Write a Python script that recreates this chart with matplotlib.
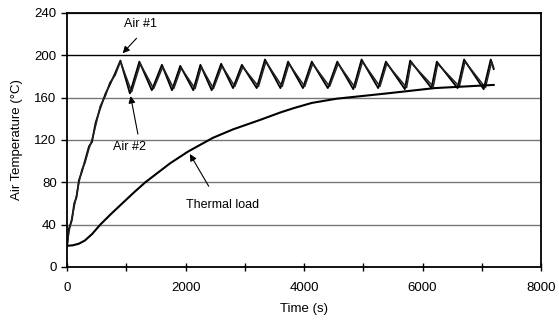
import numpy as np
import matplotlib
matplotlib.use('Agg')
import matplotlib.pyplot as plt

plt.rcParams['font.family'] = ['Liberation Sans', 'DejaVu Sans']

# initial heating ramp (time s, temp C)
rise_t = [0, 30, 80, 120, 160, 200, 250, 300, 370, 420, 480, 560, 650, 720, 810, 900]
rise_T1 = [20, 36, 44, 60, 66, 82, 90, 100, 114, 118, 136, 150, 164, 172, 183, 195]
rise_T2 = [20, 33, 46, 57, 68, 80, 92, 98, 112, 120, 133, 152, 162, 174, 181, 194]

# cycling phase: peaks and troughs
peak_t = [1220, 1600, 1910, 2250, 2600, 2950, 3340, 3730, 4130, 4560, 4970, 5380, 5790, 6240, 6700, 7150]
peak_T = [194, 191, 190, 191, 192, 191, 196, 194, 194, 194, 196, 194, 195, 194, 196, 196]
trough_t = [1060, 1430, 1770, 2130, 2440, 2800, 3200, 3600, 3980, 4400, 4830, 5250, 5700, 6150, 6590, 7030]
trough_T = [164, 167, 167, 167, 167, 169, 169, 169, 169, 169, 168, 169, 168, 169, 169, 168]
end_t, end_T = 7200, 187

# thermal load
load_t = [0, 100, 200, 300, 420, 560, 740, 930, 1120, 1320, 1740, 2040, 2460, 2800, 3260, 3600, 3820, 4130, 4550, 5400, 6200, 7200]
load_T = [20, 20.5, 22, 25, 31, 40, 50, 60, 70, 80, 98, 109, 122, 130, 139, 146, 150, 155, 159, 164, 169, 172]

t1 = list(rise_t)
T1 = list(rise_T1)
t2 = list(rise_t)
T2 = list(rise_T2)
for tr_t, tr_T, pk_t, pk_T in zip(trough_t, trough_T, peak_t, peak_T):
    t1 += [tr_t, pk_t]
    T1 += [tr_T, pk_T]
    t2 += [tr_t + 30, pk_t + 15]
    T2 += [tr_T + 1.5, pk_T - 2]
t1.append(end_t)
T1.append(end_T)
t2.append(end_t)
T2.append(end_T + 1)

fig = plt.figure(figsize=(5.59, 3.24), dpi=100)
ax = fig.add_axes([0.12, 0.176, 0.848, 0.784])

ax.plot(t1, T1, color='black', lw=1.3)
ax.plot(t2, T2, color='#222222', lw=1.1)
ax.plot(load_t, load_T, color='black', lw=1.5)

ax.set_xlim(0, 8000)
ax.set_ylim(0, 240)
ax.set_xticks(np.arange(0, 8001, 2000))
ax.set_xticks(np.arange(1000, 8000, 2000), minor=True)
ax.set_yticks(np.arange(0, 241, 40))
ax.grid(axis='y', color='#777777', lw=1.0)
ax.get_ygridlines()[5].set_color('black')
ax.set_axisbelow(True)
for s in ax.spines.values():
    s.set_linewidth(1.3)
    s.set_color('black')
ax.tick_params(axis='x', which='both', direction='inout', length=6, width=1, labelsize=9.5, pad=8)
ax.tick_params(axis='y', direction='out', length=4, width=1, labelsize=9.5)

ax.set_xlabel('Time (s)', fontsize=9.5, labelpad=6)
ax.set_ylabel('Air Temperature (°C)', fontsize=9.5, labelpad=8)

arrow = dict(arrowstyle='-|>', color='black', lw=0.8, mutation_scale=10)
ax.text(1232, 230, 'Air #1', ha='center', va='center', fontsize=9)
ax.annotate('', xy=(906, 200), xytext=(1204, 218), arrowprops=arrow)
ax.text(1046, 113, 'Air #2', ha='center', va='center', fontsize=9)
ax.annotate('', xy=(1063, 164), xytext=(1204, 123), arrowprops=arrow)
ax.text(2625, 58.6, 'Thermal load', ha='center', va='center', fontsize=9)
ax.annotate('', xy=(2048, 109), xytext=(2414, 74), arrowprops=arrow)

fig.savefig('out.png', dpi=100)
